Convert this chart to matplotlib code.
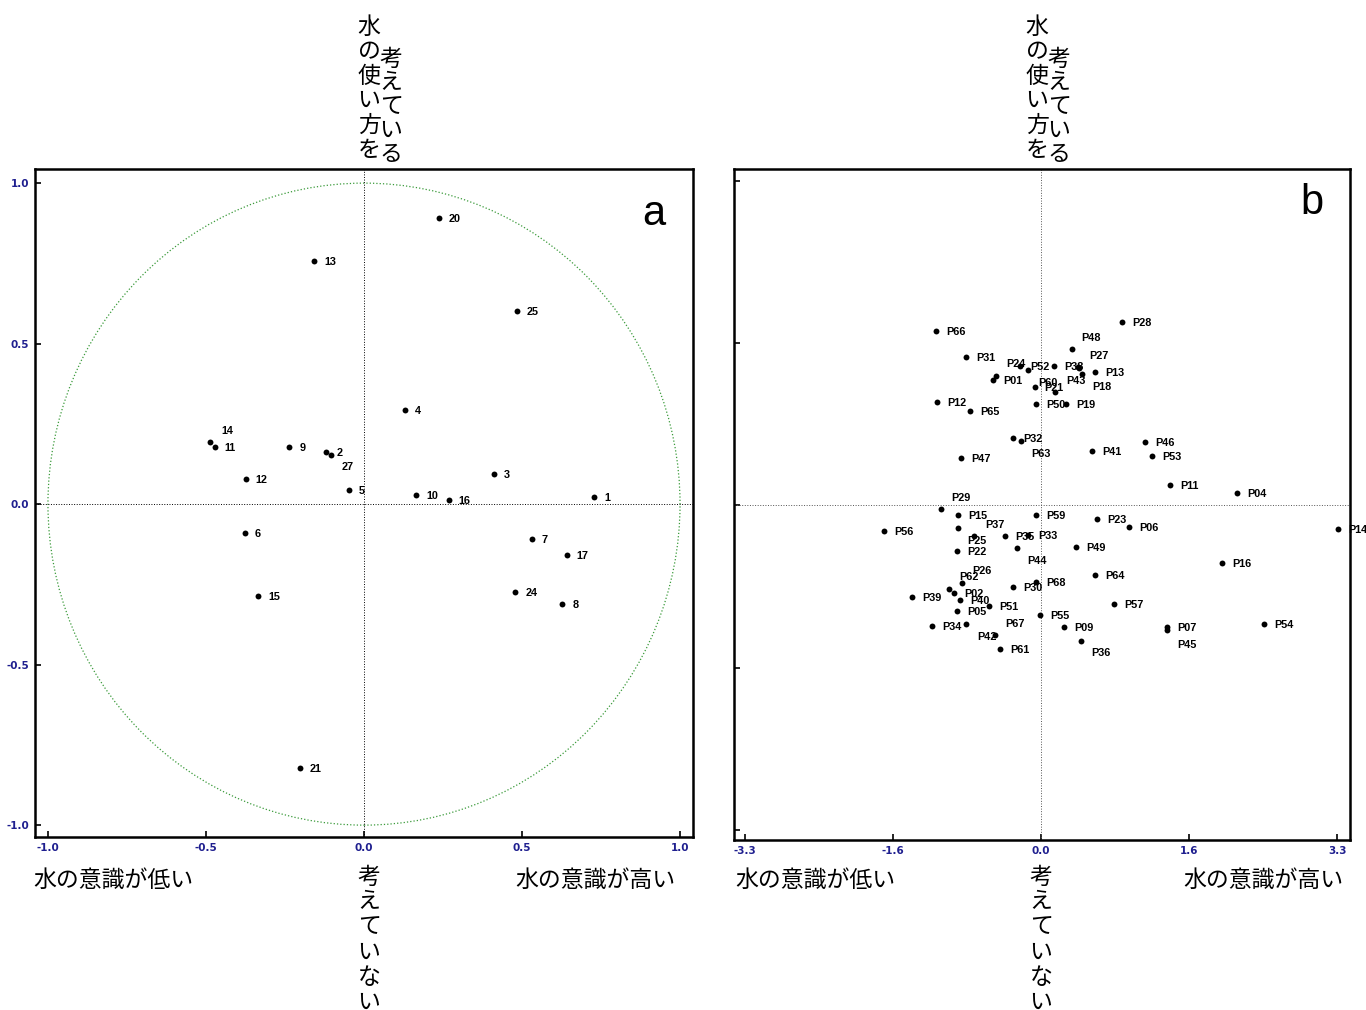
import matplotlib
matplotlib.use("Agg")
import matplotlib.pyplot as plt
from matplotlib.patches import Circle

JP = ['Noto Sans CJK JP', 'DejaVu Sans']
LBL = ['Liberation Sans', 'DejaVu Sans']
TICK_COLOR = '#1f1f8f'

# ---- panel a : variables (correlation circle)
a_names = ['1', '2', '3', '4', '5', '6', '7', '8', '9', '10', '11', '12', '13',
           '14', '15', '16', '17', '20', '21', '24', '25', '27']
a_x = [0.729, -0.104, 0.410, 0.129, -0.047, -0.378, 0.530, 0.628, -0.236, 0.165,
       -0.473, -0.374, -0.157, -0.487, -0.334, 0.268, 0.641, 0.236, -0.204, 0.479,
       0.483, -0.121]
a_y = [0.022, 0.153, 0.093, 0.292, 0.043, -0.090, -0.109, -0.312, 0.177, 0.029,
       0.177, 0.078, 0.757, 0.195, -0.287, 0.012, -0.159, 0.891, -0.822, -0.274,
       0.601, 0.161]
a_ticks = [-1.0, -0.5, 0.0, 0.5, 1.0]
a_ticklabels = ['-1.0', '-0.5', '0.0', '0.5', '1.0']

# ---- panel b : individuals
b_names = ['P28', 'P66', 'P48', 'P31', 'P24', 'P52', 'P38', 'P27', 'P18', 'P43',
           'P13', '', 'P01', 'P60', 'P21', 'P12', 'P65', 'P50', 'P19', 'P32',
           'P63', 'P41', 'P47', 'P46', 'P53', 'P11', 'P04', 'P23', 'P06', 'P14',
           'P16', 'P64', 'P57', 'P54', 'P07', 'P45', 'P29', 'P15', 'P56', 'P37',
           'P25', 'P35', 'P33', 'P59', 'P22', 'P44', 'P49', 'P26', 'P62', 'P02',
           'P40', 'P39', 'P30', 'P68', 'P51', 'P05', 'P55', 'P34', 'P67', 'P42',
           'P09', 'P36', 'P61']
b_x = [0.905, -1.166, 0.349, -0.839, -0.234, -0.148, 0.145, 0.415, 0.423, 0.453,
       0.605, -0.501, -0.535, -0.070, 0.159, -1.155, -0.794, -0.059, 0.278, -0.308,
       -0.219, 0.571, -0.891, 1.161, 1.233, 1.433, 2.186, 0.620, 0.983, 3.307,
       2.012, 0.605, 0.816, 2.487, 1.403, 1.406, -1.114, -0.921, -1.748, -0.928,
       -0.743, -0.398, -0.141, -0.052, -0.935, -0.264, 0.390, -0.883, -1.024, -0.965,
       -0.902, -1.433, -0.315, -0.052, -0.576, -0.935, -0.008, -1.217, -0.832, -0.512,
       0.259, 0.442, -0.457]
b_y = [1.862, 1.773, 1.590, 1.509, 1.414, 1.373, 1.421, 1.407, 1.394, 1.336,
       1.353, 1.319, 1.272, 1.203, 1.150, 1.055, 0.956, 1.027, 1.027, 0.685,
       0.658, 0.552, 0.481, 0.648, 0.498, 0.207, 0.122, -0.139, -0.221, -0.237,
       -0.583, -0.709, -1.004, -1.208, -1.234, -1.269, -0.038, -0.095, -0.264, -0.231,
       -0.315, -0.315, -0.302, -0.095, -0.458, -0.434, -0.417, -0.786, -0.844, -0.888,
       -0.956, -0.926, -0.827, -0.773, -1.020, -1.075, -1.109, -1.228, -1.203, -1.319,
       -1.238, -1.373, -1.455]
b_ticks = [-3.3, -1.65, 0.0, 1.65, 3.3]
b_ticklabels = ['-3.3', '-1.6', '0.0', '1.6', '3.3']

# label offsets in pixels (right, down); everything else uses the default
a_off = {'14': (11, -11), '27': (16, 15), '2': (5, -2)}
b_off = {'P48': (9, -11), 'P27': (11, -11), 'P43': (-16, 7), 'P18': (13, 19),
         'P24': (-14, -2), 'P52': (2, -3), 'P60': (3, -4), 'P21': (-11, -4),
         'P63': (10, 13), 'P29': (10, -11), 'P37': (27, -3), 'P25': (-7, 5),
         'P44': (10, 13), 'P26': (10, -12), 'P62': (10, -12), 'P67': (39, 0),
         'P42': (-18, 2), 'P36': (10, 12), 'P45': (10, 15)}

W, H = 1366, 1010
fig = plt.figure(figsize=(W / 100, H / 100), dpi=100)


def px_axes(l, t, r, b):
    return fig.add_axes([l / W, 1 - b / H, (r - l) / W, (b - t) / H])


def style(ax, ticks, labels, ylabels=True):
    for s in ax.spines.values():
        s.set_linewidth(1.8)
    ax.set_xticks(ticks)
    ax.set_xticklabels(labels)
    ax.set_yticks(ticks)
    ax.set_yticklabels(labels if ylabels else [])
    ax.tick_params(direction='in', length=4, width=1.2, pad=4,
                   labelsize=7.5, labelcolor=TICK_COLOR)
    for t in ax.get_xticklabels() + ax.get_yticklabels():
        t.set_fontweight('bold')


def put_points(ax, names, xs, ys, offs):
    ax.scatter(xs, ys, s=18, c='black', zorder=3, linewidths=0)
    for n, x, y in zip(names, xs, ys):
        if not n:
            continue
        dx, dy = offs.get(n, (10, 1))
        ax.annotate(n, (x, y), xytext=(dx, -dy), textcoords='offset pixels',
                    ha='left', va='center', fontsize=7.8, fontweight='bold',
                    family=LBL)


# panel a
ax1 = px_axes(35, 169, 693, 837)
ax1.set_xlim(-1.041, 1.041)
ax1.set_ylim(-1.037, 1.044)
ax1.axhline(0, color='black', ls=':', lw=0.7)
ax1.axvline(0, color='black', ls=':', lw=0.7)
ax1.add_patch(Circle((0, 0), 1.0, fill=False, ec='#3a9a3a', ls=':', lw=0.9))
put_points(ax1, a_names, a_x, a_y, a_off)
style(ax1, a_ticks, a_ticklabels)

# panel b
ax2 = px_axes(734, 169, 1350, 840)
ax2.set_xlim(-3.42, 3.44)
ax2.set_ylim(-3.40, 3.42)
ax2.axhline(0, color='#555555', ls=':', lw=0.7)
ax2.axvline(0, color='#555555', ls=':', lw=0.7)
put_points(ax2, b_names, b_x, b_y, b_off)
style(ax2, b_ticks, b_ticklabels, ylabels=False)


def ftext(x, y, s, **kw):
    fig.text(x / W, 1 - y / H, s, **kw)


def vtext(x, y0, s, pitch):
    for i, ch in enumerate(s):
        ftext(x, y0 + i * pitch, ch, ha='center', va='center',
              fontsize=16.5, family=JP)


for cx in (369, 1037):
    vtext(cx, 27, '水の使い方を', 24.6)
    vtext(cx + 22, 59, '考えている', 23.8)
for cx in (369, 1041):
    vtext(cx, 877, '考えていない', 25)

ftext(33, 880, '水の意識が低い', ha='left', va='center', fontsize=16.5, family=JP)
ftext(675, 880, '水の意識が高い', ha='right', va='center', fontsize=16.5, family=JP)
ftext(735, 880, '水の意識が低い', ha='left', va='center', fontsize=16.5, family=JP)
ftext(1343, 880, '水の意識が高い', ha='right', va='center', fontsize=16.5, family=JP)

ftext(654, 225, 'a', ha='center', va='baseline', fontsize=30, family=LBL)
ftext(1312, 214, 'b', ha='center', va='baseline', fontsize=30, family=LBL)

fig.savefig('out.png', dpi=100)
